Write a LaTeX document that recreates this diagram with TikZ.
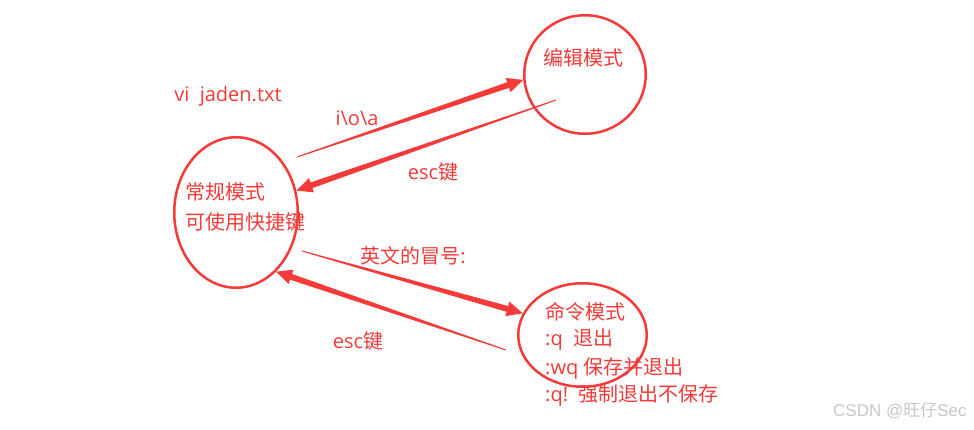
\documentclass[tikz,border=0pt]{standalone}
\usepackage{fontspec}
\setmainfont{Open Sans}
\newfontfamily\cjk{Noto Sans CJK SC}
\newfontfamily\wmfont{Liberation Sans}
\usetikzlibrary{shapes.geometric,calc}
\definecolor{myred}{RGB}{245,58,58}
\definecolor{wmgray}{RGB}{200,200,200}
\newcommand\taperarrow[2]{%
  \path let \p1=(#1),\p2=(#2),\n1={atan2(\y2-\y1,\x2-\x1)},\n2={veclen(\x2-\x1,\y2-\y1)} in
    \pgfextra{\pgfmathparse{\n1}\xdef\tA{\pgfmathresult}\pgfmathparse{\n2}\xdef\tL{\pgfmathresult}\xdef\tX{\x1}\xdef\tY{\y1}};
  \pgfmathsetmacro\tB{\tL-16}%
  \fill[myred,shift={(\tX,\tY)},rotate=\tA]
    (0pt,0.5pt) -- (\tB pt,3pt) -- (\tB pt,7.5pt) -- (\tL pt,0pt)
    -- (\tB pt,-7.5pt) -- (\tB pt,-3pt) -- (0pt,-0.5pt) -- cycle;
}
\tikzset{
  state/.style={ellipse,draw=myred,line width=2.5pt,inner sep=0pt},
  lbl/.style={text=myred,font=\fontsize{20}{24}\selectfont,inner sep=0pt},
  line/.style={lbl,anchor=west}
}
\begin{document}
\begin{tikzpicture}[x=1pt,y=-1pt]
\useasboundingbox[fill=white] (0,0) rectangle (974,429);
% states
\node[state,minimum width=121.5pt,minimum height=118.5pt] (edit) at (585,74.5) {};
\node[state,minimum width=123.5pt,minimum height=150.5pt] (normal) at (236,212.5) {};
\node[state,minimum width=128.5pt,minimum height=103.5pt] (cmd) at (582.5,335) {};
% texts
\node[lbl] (vi) at (228,96) {vi\ \ jaden.txt};
\node[lbl] (edittxt) at (583,58) {\cjk 编辑模式};
\node[line] (n1) at (185,192) {\cjk 常规模式};
\node[line] (n2) at (185,222) {\cjk 可使用快捷键};
\node[line] (c1) at (545,312) {\cjk 命令模式};
\node[line] (c2) at (545,340) {:q\ \ {\cjk 退出}};
\node[line] (c3) at (545,368) {:wq {\cjk 保存并退出}};
\node[line] (c4) at (545,395) {:q!\ \ {\cjk 强制退出不保存}};
\node[lbl] (l1) at (357,118) {i\textbackslash o\textbackslash a};
\node[lbl] (l2) at (433,172) {esc{\cjk 键}};
\node[lbl] (l3) at (413,256) {{\cjk 英文的冒号}:};
\node[lbl] (l4) at (358,341) {esc{\cjk 键}};
\node[anchor=west,text=wmgray,font=\fontsize{17}{19}\selectfont\wmfont,inner sep=0pt] (wm) at (833,411) {CSDN @{\cjk 旺仔}Sec};
% connector ends
\coordinate (s1) at (297,157);
\coordinate (t1) at (edit.185);
\coordinate (s2) at (556,100);
\coordinate (t2) at (normal.20);
\coordinate (s3) at (302,251);
\coordinate (t3) at (cmd.160);
\coordinate (s4) at (506,350);
\coordinate (t4) at (normal.-56);
\taperarrow{s1}{t1}
\taperarrow{s2}{t2}
\taperarrow{s3}{t3}
\taperarrow{s4}{t4}
\end{tikzpicture}
\end{document}
